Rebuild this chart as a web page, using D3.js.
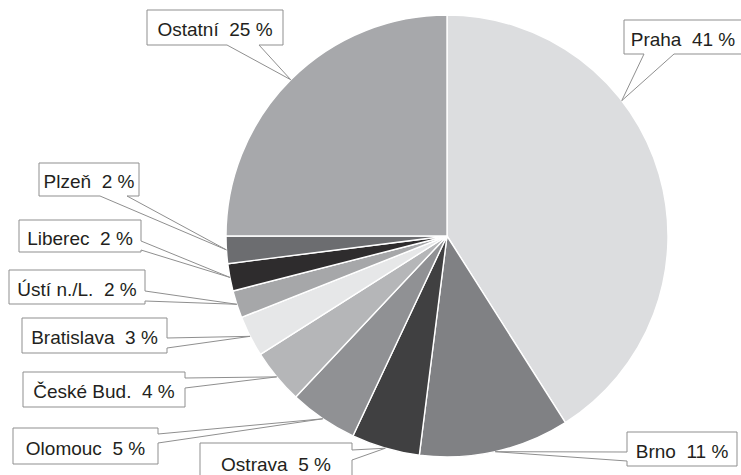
<!DOCTYPE html>
<html>
<head>
<meta charset="utf-8">
<script src="https://cdn.jsdelivr.net/npm/d3@7"></script>
<style>
  html, body { margin: 0; padding: 0; background: #fff; }
  svg { display: block; }
</style>
</head>
<body>
<svg id="chart" width="741" height="475"></svg>
<script>
// Share of each city, clockwise from 12 o'clock
const cities = ["Praha", "Brno", "Ostrava", "Olomouc", "České Bud.", "Bratislava", "Ústí n./L.", "Liberec", "Plzeň", "Ostatní"];
const shares = [41, 11, 5, 5, 4, 3, 2, 2, 2, 25];
const sliceColors = ["#dcdddf", "#808184", "#404041", "#909194", "#b5b6b8", "#e6e7e8", "#a6a7a9", "#2e2c2d", "#6c6d70", "#a7a8ab"];

// Callout boxes: box rect, side the pointer leaves from, pointer base offsets along that side,
// and where inside the slice the pointer lands (fraction of the slice's sweep).
const callouts = [
  { x: 624, y: 20,  w: 118, h: 34, side: "bottom", b1: 20, b2: 50, frac: 0.354 },
  { x: 627, y: 432, w: 110, h: 34, side: "left",   b1: 20, b2: 29, frac: 0.5 },
  { x: 200, y: 443, w: 152, h: 38, side: "right",  b1: 7,  b2: 17, frac: 0.5 },
  { x: 13,  y: 428, w: 145, h: 36, side: "right",  b1: 6,  b2: 15, frac: 0.5 },
  { x: 23,  y: 372, w: 162, h: 35, side: "right",  b1: 6,  b2: 16, frac: 0.5 },
  { x: 22,  y: 318, w: 145, h: 35, side: "right",  b1: 20, b2: 30, frac: 0.5 },
  { x: 9,   y: 270, w: 136, h: 34, side: "right",  b1: 21, b2: 31, frac: 0.5 },
  { x: 19,  y: 220, w: 122, h: 32, side: "right",  b1: 21, b2: 30, frac: 0.5 },
  { x: 39,  y: 163, w: 100, h: 33, side: "bottom", b1: 61, b2: 88, frac: 0.5 },
  { x: 147, y: 10,  w: 136, h: 35, side: "bottom", b1: 80, b2: 112, frac: 0.5 }
];

const cx = 447, cy = 236, radius = 221;
const svg = d3.select("#chart");

const data = cities.map((c, i) => ({ city: c, share: shares[i], color: sliceColors[i], box: callouts[i] }));

const pie = d3.pie().sort(null).value(d => d.share).startAngle(0).endAngle(2 * Math.PI);
const arcs = pie(data);
const arc = d3.arc().innerRadius(0).outerRadius(radius);

const g = svg.append("g").attr("transform", `translate(${cx},${cy})`);

g.selectAll("path.slice")
  .data(arcs)
  .join("path")
  .attr("class", "slice")
  .attr("d", arc)
  .attr("fill", d => d.data.color)
  .attr("stroke", "#ffffff")
  .attr("stroke-width", 1.4)
  .attr("stroke-linejoin", "round");

// Point on the rim where a callout pointer lands
function anchorOf(a) {
  const ang = a.startAngle + (a.endAngle - a.startAngle) * a.data.box.frac;
  return [cx + radius * Math.sin(ang), cy - radius * Math.cos(ang)];
}

// Box outline with a pointer tail, drawn as one path
function calloutPath(a) {
  const b = a.data.box;
  const [ax, ay] = anchorOf(a);
  const p = d3.path();
  const x0 = b.x, y0 = b.y, x1 = b.x + b.w, y1 = b.y + b.h;
  if (b.side === "bottom") {
    p.moveTo(x0, y0); p.lineTo(x1, y0); p.lineTo(x1, y1);
    p.lineTo(x0 + b.b2, y1); p.lineTo(ax, ay); p.lineTo(x0 + b.b1, y1);
    p.lineTo(x0, y1); p.closePath();
  } else if (b.side === "right") {
    p.moveTo(x0, y0); p.lineTo(x1, y0); p.lineTo(x1, y0 + b.b1);
    p.lineTo(ax, ay); p.lineTo(x1, y0 + b.b2); p.lineTo(x1, y1);
    p.lineTo(x0, y1); p.closePath();
  } else {
    p.moveTo(x0, y0); p.lineTo(x1, y0); p.lineTo(x1, y1); p.lineTo(x0, y1);
    p.lineTo(x0, y0 + b.b2); p.lineTo(ax, ay); p.lineTo(x0, y0 + b.b1);
    p.closePath();
  }
  return p.toString();
}

const labels = svg.append("g").attr("class", "callouts");

labels.selectAll("path")
  .data(arcs)
  .join("path")
  .attr("d", calloutPath)
  .attr("fill", "#ffffff")
  .attr("stroke", "#8f8f8f")
  .attr("stroke-width", 1)
  .attr("stroke-linejoin", "miter");

labels.selectAll("text")
  .data(arcs)
  .join("text")
  .attr("x", d => d.data.box.x + d.data.box.w / 2)
  .attr("y", d => d.data.box.y + d.data.box.h / 2 + 8.5)
  .attr("text-anchor", "middle")
  .style("white-space", "pre")
  .attr("font-family", "'Liberation Sans', Arial, Helvetica, sans-serif")
  .attr("font-size", 19)
  .attr("fill", "#231f20")
  .text(d => `${d.data.city}  ${d.data.share} %`);
</script>
</body>
</html>
